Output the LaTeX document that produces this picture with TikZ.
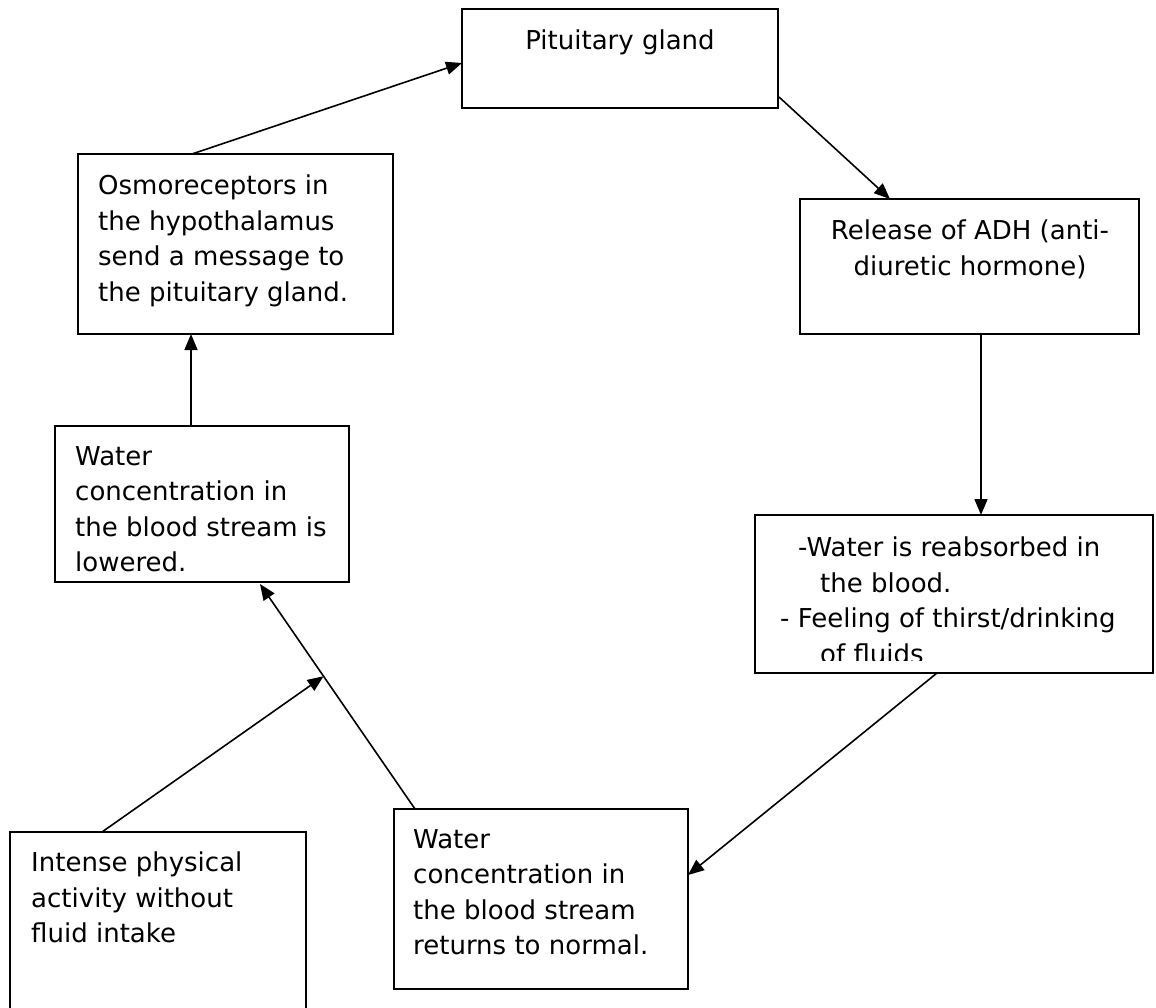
\documentclass[tikz,border=0pt]{standalone}
\usepackage{fontspec}
\setmainfont{DejaVu Sans}
\usetikzlibrary{arrows.meta,calc}
\begin{document}
\begin{tikzpicture}[x=1pt,y=-1pt,
  box/.style={draw,line width=1.8pt,rectangle,inner sep=0pt,outer sep=0pt,anchor=north west},
  txt/.style={inner sep=0pt,font=\fontsize{26}{35.5}\selectfont,align=left},
  conn/.style={line width=1.6pt,-{Triangle[length=16pt,width=13pt]}}]
\clip (0,0) rectangle (1156,1008);
% boxes
\node[box,minimum width=316pt,minimum height=99pt] (pit) at (462,9) {};
\node[box,minimum width=315pt,minimum height=180pt] (osmo) at (78,154) {};
\node[box,minimum width=339pt,minimum height=135pt] (rel) at (800,199) {};
\node[box,minimum width=294pt,minimum height=156pt] (low) at (55,426) {};
\node[box,minimum width=398pt,minimum height=158pt] (wbox) at (755,515) {};
\node[box,minimum width=296pt,minimum height=198pt] (int) at (10,832) {};
\node[box,minimum width=294pt,minimum height=180pt] (ret) at (394,809) {};
% texts
\node[txt,anchor=north] (pitT) at (620,30) {Pituitary gland};
\node[txt,anchor=north west] (osmoT) at (98,175) {Osmoreceptors in\\the hypothalamus\\send a message to\\the pituitary gland.};
\node[txt,anchor=north,align=center] (relT) at (970,220) {Release of ADH (anti-\\diuretic hormone)};
\begin{scope}
\clip (low.north west) rectangle ($(low.south east)+(0,-9)$);
\node[txt,anchor=north west] (lowT) at (75,446) {Water\\concentration in\\the blood stream is\\lowered.};
\end{scope}
\begin{scope}
\clip (wbox.north west) rectangle ($(wbox.south east)+(0,-13)$);
\node[txt,anchor=north west] (wT) at (780,537) {\hspace*{18pt}-Water is reabsorbed in\\\hspace*{40pt}the blood.\\- Feeling of thirst/drinking\\\hspace*{40pt}of fluids};
\end{scope}
\node[txt,anchor=north west] (intT) at (31,852) {Intense physical\\activity without\\fluid intake};
\node[txt,anchor=north west] (retT) at (413,829) {Water\\concentration in\\the blood stream\\returns to normal.};
% connector ends
\coordinate (a1s) at ($(osmo.north west)+(114,0)$);
\coordinate (a1e) at ($(pit.north west)+(0,54)$);
\coordinate (a2s) at ($(pit.north east)+(1,88)$);
\coordinate (a2e) at ($(rel.north west)+(90,0)$);
\coordinate (a3s) at ($(rel.south west)+(181,0)$);
\coordinate (a3e) at ($(wbox.north west)+(226,0)$);
\coordinate (a4s) at ($(wbox.south west)+(182,0)$);
\coordinate (a4e) at ($(ret.north east)+(0,66)$);
\coordinate (a5s) at ($(ret.north west)+(21,0)$);
\coordinate (a5e) at ($(low.south west)+(205,2)$);
\coordinate (m) at ($(a5s)!0.59!(a5e)$);
\coordinate (a6s) at ($(int.north west)+(92,0)$);
\coordinate (a7s) at ($(low.north west)+(136,0)$);
\coordinate (a7e) at ($(osmo.south west)+(113,0)$);
% connectors
\draw[conn] (a1s) -- (a1e);
\draw[conn] (a2s) -- (a2e);
\draw[conn] (a3s) -- (a3e);
\draw[conn] (a4s) -- (a4e);
\draw[conn] (a5s) -- (a5e);
\draw[conn] (a6s) -- (m);
\draw[conn] (a7s) -- (a7e);
\end{tikzpicture}
\end{document}
